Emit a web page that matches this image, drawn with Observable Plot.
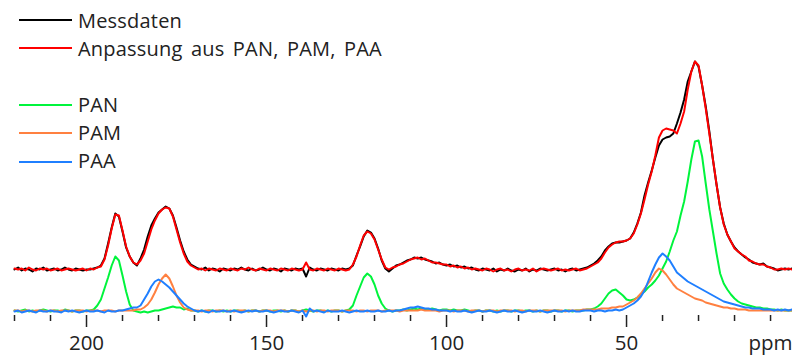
<!DOCTYPE html>
<html>
<head>
<meta charset="utf-8">
<script src="https://cdn.jsdelivr.net/npm/d3@7"></script>
<script src="https://cdn.jsdelivr.net/npm/@observablehq/plot@0.6"></script>
<style>
  html, body { margin: 0; padding: 0; background: #fff; }
  #chart { position: relative; width: 792px; height: 355px; font-family: "Open Sans", sans-serif; }
  .key-line { position: absolute; left: 19px; width: 53px; height: 2px; }
  .key-text { position: absolute; left: 78px; font-size: 20px; line-height: 20px; color: #222; white-space: nowrap; letter-spacing: 0.2px; word-spacing: 3px; }
</style>
</head>
<body>
<div id="chart"></div>
<script>
// Chemical shift grid, 1 ppm steps from 220 down to 4 ppm
const ppm = d3.range(220, 3, -1);

// Measured 13C spectrum (stacked above the components)
const messdaten = [
  42,44,41,43,42,40,43,42,44,41,
  42,43,41,42,44,42,41,43,42,41,
  42,42,43,44,46,53,68,84,98,95,
  80,64,55,49,46,53,62,75,86,93,
  99,102,105,103,96,84,71,60,52,47,
  45,43,42,44,41,43,42,40,43,42,
  41,43,42,44,42,41,43,41,42,44,
  42,41,43,42,40,43,42,41,43,42,
  43,35,44,42,41,43,42,41,43,42,
  41,43,42,43,46,56,65,75,81,79,
  73,63,51,43,40,43,46,47,49,51,
  52,54,53,54,52,51,50,48,49,47,
  46,47,45,46,44,45,43,44,42,41,
  43,42,41,43,40,42,41,43,41,40,
  42,41,43,40,42,41,43,42,41,42,
  43,41,42,40,42,43,41,42,43,44,
  46,48,51,55,61,65,68,69,69,70,
  71,73,79,88,99,116,129,141,154,166,
  172,174,175,178,188,199,212,230,240,250,
  245,226,205,180,152,127,104,88,77,70,
  64,60,57,54,52,49,48,47,48,45,
  44,43,41,42,43,42,43
];

// Fit from the PAN, PAM and PAA reference spectra
const anpassung = [
  43,42,43,41,44,42,41,43,42,43,
  41,42,43,41,42,43,42,41,42,43,
  41,43,42,44,45,52,66,83,97,96,
  81,65,55,49,47,51,58,70,82,91,
  98,102,104,103,95,82,69,58,50,46,
  44,42,43,41,43,42,41,43,42,41,
  43,42,41,43,42,44,42,41,43,42,
  41,43,42,41,43,42,41,43,42,41,
  42,49,42,41,43,42,41,43,42,41,
  43,42,41,42,47,55,66,76,80,78,
  72,62,52,44,42,44,45,47,48,50,
  52,53,54,52,53,51,49,49,48,47,
  47,45,46,44,45,43,44,42,43,42,
  41,43,42,40,42,43,41,42,40,42,
  43,41,42,41,43,40,42,43,42,41,
  42,43,41,42,41,42,43,41,42,43,
  45,47,49,53,59,64,67,69,70,70,
  71,73,78,87,98,112,127,140,156,174,
  181,183,182,181,178,188,200,222,240,250,
  246,226,203,178,152,127,104,87,77,70,
  63,60,57,55,51,50,48,47,47,45,
  44,42,42,43,42,43,42
];

// Weighted component spectra
const pan = [
  1,0,1,2,0,1,0,1,2,1,
  0,1,1,0,2,1,0,1,1,0,
  1,1,2,6,12,23,34,46,55,51,
  36,20,7,1,0,-1,0,-1,0,1,
  1,2,3,4,5,4,4,2,3,1,
  1,0,1,0,1,1,0,1,0,1,
  0,1,1,0,1,0,1,1,0,1,
  1,0,1,1,0,1,0,1,1,0,
  1,2,1,0,1,1,0,1,0,1,
  1,0,1,2,6,16,25,34,38,35,
  27,16,8,3,1,0,1,1,2,1,
  2,3,2,3,2,2,3,2,1,2,
  2,1,2,1,1,2,1,0,1,1,
  0,1,1,0,1,0,1,1,0,1,
  1,0,1,1,0,1,0,1,1,0,
  1,1,0,1,1,0,1,1,1,2,
  2,3,5,8,13,18,21,22,19,16,
  12,11,12,14,17,20,24,27,31,36,
  43,50,60,71,80,96,110,130,152,170,
  171,155,128,102,80,58,38,28,22,17,
  13,10,8,7,6,5,4,4,3,3,
  2,2,1,2,1,1,1
];

const pam = [
  1,1,0,1,1,0,1,1,1,0,
  1,1,0,1,1,1,0,1,1,1,
  0,1,1,1,0,1,1,1,0,1,
  1,1,1,1,2,2,4,7,12,19,
  27,33,37,33,25,16,9,4,2,1,
  1,1,0,1,1,0,1,1,1,0,
  1,0,1,1,1,0,1,1,0,1,
  1,1,0,1,1,1,0,1,1,0,
  1,0,1,1,0,1,1,0,1,1,
  1,0,1,1,1,0,1,1,0,1,
  1,1,0,1,1,1,1,0,1,1,
  1,1,1,2,1,1,1,1,0,1,
  1,1,0,1,1,1,0,1,1,1,
  0,1,1,1,0,1,1,1,1,0,
  1,1,0,1,1,1,0,1,1,1,
  1,1,1,0,1,1,1,1,2,2,
  2,2,2,3,3,3,4,4,5,5,
  7,9,11,14,18,23,28,33,39,43,
  41,37,32,27,23,21,19,17,15,13,
  12,11,9,8,7,6,5,4,4,3,
  3,2,2,2,1,1,1,1,1,1,
  1,1,1,1,1,1,1
];

const paa = [
  0,1,-1,0,1,0,-1,1,0,0,
  1,0,0,-1,1,0,1,0,-1,0,
  1,0,0,1,0,-1,1,0,0,1,
  1,2,3,4,4,6,12,18,25,30,
  32,30,27,24,20,16,12,8,5,3,
  1,0,1,0,-1,1,0,0,1,0,
  0,1,0,-1,0,1,0,1,0,0,
  1,0,-1,0,1,0,0,1,0,-1,
  1,-5,3,0,1,0,-1,1,0,0,
  0,1,0,-1,0,1,0,0,1,0,
  0,1,0,0,1,0,1,1,2,3,
  4,4,5,4,3,3,2,2,1,1,
  1,0,1,0,0,1,0,-1,0,1,
  0,0,1,0,-1,0,1,0,0,1,
  0,-1,0,1,0,0,1,0,-1,0,
  1,0,0,1,0,1,0,0,1,1,
  1,0,1,1,0,1,1,2,1,2,
  4,6,8,11,15,21,30,39,47,54,
  58,55,51,45,39,36,33,30,28,26,
  24,22,20,18,16,14,12,10,9,8,
  7,6,5,4,4,3,3,3,2,2,
  2,1,2,1,2,1,2
];

// Axis ticks
const majorTicks = [200, 150, 100, 50];
const minorTicks = [220, 210, 190, 180, 170, 160, 140, 130, 120, 110, 90, 80, 70, 60, 40, 30, 20, 10];
const unitTick = [10];

// Series names, legend text and colours (drawing order: components first)
const seriesNames = ["PAN", "PAM", "PAA", "Messdaten", "Anpassung aus PAN, PAM, PAA"];
const seriesValues = [pan, pam, paa, messdaten, anpassung];
const seriesColors = ["#00f43c", "#ff8040", "#1f7fff", "#000000", "#ff0000"];

const toRows = (values) => ppm.map((p, i) => ({ppm: p, value: values[i]}));

const chart = Plot.plot({
  width: 792,
  height: 355,
  marginTop: 0,
  marginBottom: 40,
  marginLeft: 14,
  marginRight: 0,
  style: {fontFamily: "'Open Sans', sans-serif", fontSize: "20px", color: "#222", background: "#fff"},
  x: {domain: [220, 3.9], label: null},
  y: {domain: [-4, 311], axis: null},
  marks: [
    ...seriesValues.map((vals, k) =>
      Plot.line(toRows(vals), {x: "ppm", y: "value", stroke: seriesColors[k], strokeWidth: 2, strokeLinejoin: "round"})
    ),
    Plot.axisX(minorTicks, {tickSize: 6, strokeWidth: 1.5, tickFormat: () => ""}),
    Plot.axisX(majorTicks, {tickSize: 12, strokeWidth: 1.5, tickPadding: 8, fontSize: 20.5}),
    Plot.axisX(unitTick, {tickSize: 0, tickPadding: 20, fontSize: 20.5, tickFormat: () => "ppm"})
  ]
});

const host = document.getElementById("chart");
host.appendChild(chart);

// Legend in the upper-left corner of the plot area
const legendOrder = [
  {name: "Messdaten", lineY: 20, baseY: 28.3},
  {name: "Anpassung aus PAN, PAM, PAA", lineY: 48, baseY: 56.7},
  {name: "PAN", lineY: 105, baseY: 112.7},
  {name: "PAM", lineY: 133, baseY: 140.7},
  {name: "PAA", lineY: 162, baseY: 168.3}
];
for (const item of legendOrder) {
  const color = seriesColors[seriesNames.indexOf(item.name)];
  const line = document.createElement("div");
  line.className = "key-line";
  line.style.top = (item.lineY - 1) + "px";
  line.style.background = color;
  host.appendChild(line);
  const label = document.createElement("div");
  label.className = "key-text";
  label.style.top = (item.baseY - 17.8) + "px";
  label.textContent = item.name;
  host.appendChild(label);
}
</script>
</body>
</html>
